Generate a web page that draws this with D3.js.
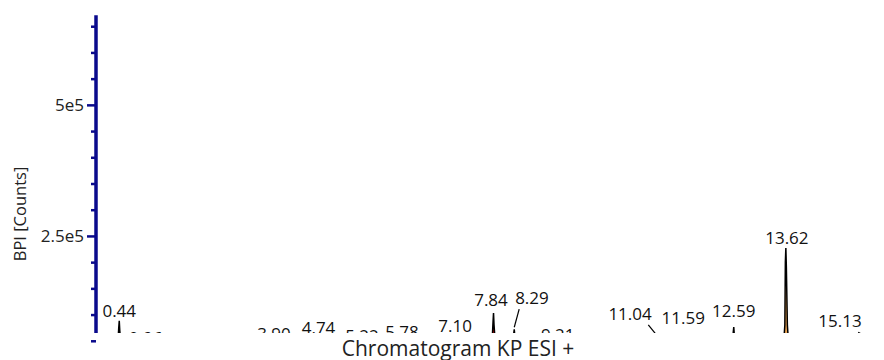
<!DOCTYPE html>
<html>
<head>
<meta charset="utf-8">
<script src="https://cdn.jsdelivr.net/npm/d3@7/dist/d3.min.js"></script>
<style>
  html, body { margin: 0; padding: 0; background: #fff; }
  svg { display: block; font-family: "Open Sans", "Noto Sans", sans-serif; }
</style>
</head>
<body>
<div id="chart"></div>
<script>
// retention times (min) and BPI counts of the trace
const traceRt = [0.00, 0.36, 0.41, 0.43, 0.44, 0.45, 0.48, 0.60,
    0.90, 0.94, 0.96, 0.98, 1.05,
    3.80, 3.87, 3.90, 3.93, 4.00,
    4.66, 4.72, 4.74, 4.76, 4.83,
    5.15, 5.20, 5.22, 5.24, 5.30,
    5.70, 5.76, 5.78, 5.80, 5.86,
    7.02, 7.08, 7.10, 7.12, 7.18,
    7.76, 7.81, 7.83, 7.84, 7.85, 7.88, 7.95,
    8.16, 8.22, 8.24, 8.25, 8.26, 8.29, 8.36,
    9.13, 9.19, 9.21, 9.23, 9.29,
    10.96, 11.02, 11.04, 11.06, 11.12,
    11.51, 11.57, 11.59, 11.61, 11.67,
    12.51, 12.56, 12.58, 12.59, 12.60, 12.63, 12.70,
    13.50, 13.57, 13.60, 13.61, 13.62, 13.63, 13.65, 13.68, 13.76,
    15.05, 15.11, 15.13, 15.15, 15.21,
    16.00, 16.12, 16.15, 16.18, 16.30];
const traceCounts = [20000, 21000, 40000, 75000, 88000, 70000, 35000, 22000,
    21000, 30000, 38000, 29000, 21000,
    20000, 30000, 40000, 29000, 20000,
    21000, 40000, 55000, 38000, 21000,
    20000, 30000, 38000, 28000, 20000,
    21000, 36000, 46000, 34000, 21000,
    21000, 42000, 57000, 40000, 21000,
    22000, 45000, 85000, 103000, 80000, 40000, 22000,
    21000, 40000, 64000, 72000, 60000, 36000, 21000,
    20000, 30000, 40000, 29000, 20000,
    21000, 42000, 60000, 41000, 21000,
    21000, 44000, 62000, 42000, 21000,
    21000, 40000, 66000, 76000, 62000, 38000, 21000,
    22000, 36000, 80000, 200000, 227000, 190000, 80000, 36000, 22000,
    21000, 42000, 58000, 40000, 21000,
    21000, 48000, 66000, 45000, 21000];

// peak annotations: apex time, label text, apex counts, label anchor (time, counts)
const peakRt     = [0.44, 0.96, 3.90, 4.74, 5.22, 5.78, 7.10, 7.84, 8.25, 9.21, 11.04, 11.59, 12.59, 13.62, 15.13, 16.15];
const peakLabels = ["0.44", "0.96", "3.90", "4.74", "5.22", "5.78", "7.10", "7.84", "8.29", "9.21", "11.04", "11.59", "12.59", "13.62", "15.13", "16.15"];
const peakCounts = [88000, 38000, 40000, 55000, 38000, 46000, 57000, 103000, 72000, 40000, 60000, 62000, 76000, 227000, 58000, 66000];
const labelRt    = [0.44, 0.96, 3.50, 4.38, 5.24, 6.03, 7.08, 7.79, 8.60, 9.11, 10.54, 11.59, 12.59, 13.64, 14.69, 16.00];
const labelCounts = [95000, 44000, 51000, 63000, 48000, 55000, 67000, 116000, 120000, 50000, 90000, 82000, 95000, 235000, 76000, 86000];

// integrated peaks (shaded)
const integStart = [7.76, 8.16, 13.50];
const integEnd   = [7.95, 8.36, 13.76];

// y axis ticks
const majorTicks = [250000, 500000];
const majorTickLabels = ["2.5e5", "5e5"];
const minorTicks = [50000, 100000, 150000, 200000, 300000, 350000, 400000, 450000, 550000, 600000, 650000];
const yTop = 671000;

const width = 884, height = 360;
const plotLeft = 96, plotBottom = 333;

const svg = d3.select('#chart')
    .append('svg')
    .attr('width', width)
    .attr('height', height);

const xScale = d3.scaleLinear()
    .domain([0, 15.6])
    .range([97, 886]);

const yScale = d3.scaleLinear()
    .domain([0, 700000])
    .range([367, 0]);

svg.append('defs').append('clipPath')
    .attr('id', 'plotClip')
    .append('rect')
    .attr('x', plotLeft)
    .attr('y', 0)
    .attr('width', width - plotLeft)
    .attr('height', plotBottom);

const plot = svg.append('g').attr('clip-path', 'url(#plotClip)');

const data = traceRt.map((rt, i) => ({ rt: rt, counts: traceCounts[i] }));

// shaded integrated peaks
const integColors = ['#e00000', '#e00000', '#e9a24f'];
const area = d3.area()
    .x(d => xScale(d.rt))
    .y0(yScale(20000))
    .y1(d => yScale(d.counts));

integStart.forEach((s, i) => {
    const seg = data.filter(d => d.rt >= s && d.rt <= integEnd[i]);
    plot.append('path')
        .datum(seg)
        .attr('d', area)
        .attr('fill', integColors[i]);
});

// trace
const line = d3.line()
    .x(d => xScale(d.rt))
    .y(d => yScale(d.counts));

plot.append('path')
    .datum(data)
    .attr('d', line)
    .attr('fill', 'none')
    .attr('stroke', '#000')
    .attr('stroke-width', 1.5);

// peak labels + leader lines
peakRt.forEach((rt, i) => {
    const lx = xScale(labelRt[i]);
    const ly = yScale(labelCounts[i]);
    const px = xScale(rt);
    const txt = plot.append('text')
        .attr('x', lx)
        .attr('y', ly)
        .attr('text-anchor', 'middle')
        .style('font-size', '17px')
        .style('fill', '#111')
        .text(peakLabels[i]);
    if (Math.abs(px - lx) > 8) {
        const w = txt.node().getComputedTextLength();
        const off = Math.max(-0.38 * w, Math.min(0.42 * w, px - lx));
        plot.append('line')
            .attr('x1', lx + off)
            .attr('y1', ly + 5)
            .attr('x2', px)
            .attr('y2', yScale(peakCounts[i]) - 2)
            .attr('stroke', '#000')
            .attr('stroke-width', 1.2);
    }
});

// y axis
const axisColor = '#0a0a8c';
const yAxis = svg.append('g')
    .attr('transform', `translate(${plotLeft},0)`)
    .call(d3.axisLeft(yScale)
        .tickValues(majorTicks)
        .tickSize(9)
        .tickPadding(3)
        .tickFormat((d, i) => majorTickLabels[i]));
yAxis.select('.domain').remove();
yAxis.selectAll('.tick line').attr('stroke', axisColor).attr('stroke-width', 2.5);
yAxis.selectAll('.tick text')
    .style('font-size', '17px')
    .style('font-family', '"Open Sans", "Noto Sans", sans-serif')
    .attr('fill', '#222');

const yMinor = svg.append('g')
    .attr('transform', `translate(${plotLeft},0)`)
    .call(d3.axisLeft(yScale).tickValues(minorTicks).tickSize(5).tickFormat(''));
yMinor.select('.domain').remove();
yMinor.selectAll('.tick line').attr('stroke', axisColor).attr('stroke-width', 2.5);

svg.append('line')
    .attr('x1', plotLeft)
    .attr('x2', plotLeft)
    .attr('y1', yScale(yTop))
    .attr('y2', plotBottom)
    .attr('stroke', axisColor)
    .attr('stroke-width', 3.5);

// y label
svg.append('text')
    .attr('transform', `translate(26,214) rotate(-90)`)
    .attr('text-anchor', 'middle')
    .style('font-size', '16.5px')
    .style('fill', '#222')
    .text('BPI [Counts]');

// title
svg.append('text')
    .attr('x', 458)
    .attr('y', 356)
    .attr('text-anchor', 'middle')
    .style('font-size', '21px')
    .style('fill', '#222')
    .text('Chromatogram KP ESI +');
</script>
</body>
</html>
